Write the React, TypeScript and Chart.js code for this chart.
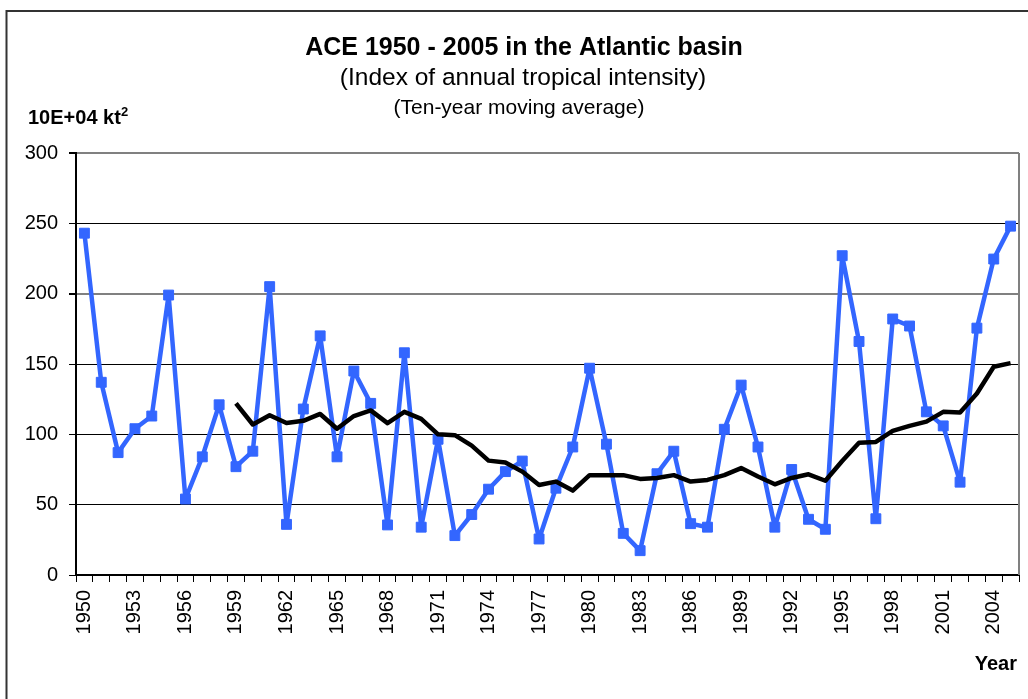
import React, { useEffect, useRef } from "react";
import { Chart, registerables } from "chart.js";

Chart.register(...registerables);

const years: string[] = [
  "1950","1951","1952","1953","1954","1955","1956","1957","1958","1959",
  "1960","1961","1962","1963","1964","1965","1966","1967","1968","1969",
  "1970","1971","1972","1973","1974","1975","1976","1977","1978","1979",
  "1980","1981","1982","1983","1984","1985","1986","1987","1988","1989",
  "1990","1991","1992","1993","1994","1995","1996","1997","1998","1999",
  "2000","2001","2002","2003","2004","2005",
];

const aceValues: number[] = [
  243, 137, 87, 104, 113, 199, 54, 84, 121, 77,
  88, 205, 36, 118, 170, 84, 145, 122, 35.6, 158,
  34, 96.5, 28, 43, 61, 73.5, 81, 25.6, 61.7, 91,
  147, 93, 29.6, 17.3, 72, 88, 36.5, 34, 103.6, 135,
  91, 34, 75, 39.6, 32.5, 227, 166, 40, 182, 177,
  116, 106, 66, 175.5, 224.6, 248,
];

const movingAverage: (number | null)[] = [
  null, null, null, null, null, null, null, null, null, 122,
  107, 113.6, 108, 109.6, 114.5, 104, 113, 117, 108, 116,
  111, 100, 99.4, 92, 81.3, 80, 73.5, 64, 66.4, 60,
  71, 71, 71, 68.3, 69, 71, 66.4, 67.6, 71, 76,
  70, 64.5, 69, 71.6, 67, 81, 94, 94.6, 102.4, 106,
  109, 116, 115.5, 129, 148, 150.6,
];

const yTicks: number[] = [0, 50, 100, 150, 200, 250, 300];

const FONT = "'Liberation Sans', Arial, Helvetica, sans-serif";

function drawText(
  ctx: CanvasRenderingContext2D,
  text: string,
  x: number,
  baseline: number,
  font: string,
  align: CanvasTextAlign
) {
  ctx.save();
  ctx.font = font;
  ctx.textAlign = align;
  ctx.textBaseline = "alphabetic";
  ctx.fillText(text, x, baseline);
  ctx.restore();
}

const decorPlugin = {
  id: "decor",
  beforeDraw(chart: any) {
    const ctx: CanvasRenderingContext2D = chart.ctx;
    ctx.save();
    ctx.fillStyle = "#ffffff";
    ctx.fillRect(0, 0, chart.width, chart.height);
    // outer frame (top + left)
    ctx.strokeStyle = "#333333";
    ctx.lineWidth = 2;
    ctx.beginPath();
    ctx.moveTo(6.5, 699);
    ctx.lineTo(6.5, 11);
    ctx.lineTo(1028, 11);
    ctx.stroke();
    ctx.restore();
  },
  afterDatasetsDraw(chart: any) {
    const ctx: CanvasRenderingContext2D = chart.ctx;
    const a = chart.chartArea;
    ctx.save();
    // right gray border of plot area
    ctx.strokeStyle = "#808080";
    ctx.lineWidth = 2;
    ctx.beginPath();
    ctx.moveTo(a.right, a.top);
    ctx.lineTo(a.right, a.bottom);
    ctx.stroke();
    ctx.fillStyle = "#000000";
    drawText(ctx, "ACE 1950 - 2005 in the Atlantic basin", 524, 55, `bold 25px ${FONT}`, "center");
    drawText(ctx, "(Index of annual tropical intensity)", 523, 85, `24.5px ${FONT}`, "center");
    drawText(ctx, "(Ten-year moving average)", 519, 114, `21px ${FONT}`, "center");
    drawText(ctx, "10E+04 kt", 28, 124, `bold 20px ${FONT}`, "left");
    drawText(ctx, "2", 121, 116, `bold 13px ${FONT}`, "left");
    drawText(ctx, "Year", 1017, 670, `bold 20px ${FONT}`, "right");
    ctx.restore();
  },
};

export default function App() {
  const canvasRef = useRef<HTMLCanvasElement | null>(null);

  useEffect(() => {
    const canvas = canvasRef.current;
    if (!canvas) return;
    const chart = new Chart(canvas, {
      type: "line",
      data: {
        labels: years,
        datasets: [
          {
            label: "Ten-year moving average",
            data: movingAverage,
            borderColor: "#000000",
            backgroundColor: "#000000",
            borderWidth: 4.5,
            pointRadius: 0,
            pointHoverRadius: 0,
            tension: 0,
            order: 0,
            borderJoinStyle: "round",
          },
          {
            label: "ACE",
            data: aceValues,
            borderColor: "#3366FF",
            backgroundColor: "#3366FF",
            borderWidth: 4.5,
            borderJoinStyle: "round",
            pointStyle: "rect",
            pointRadius: 7,
            pointBorderWidth: 1,
            pointBorderColor: "#3366FF",
            pointBackgroundColor: "#3366FF",
            tension: 0,
            order: 1,
          },
        ],
      },
      options: {
        responsive: false,
        animation: false,
        devicePixelRatio: 1,
        layout: { padding: { top: 153, right: 9, left: 0, bottom: 0 } },
        plugins: {
          legend: { display: false },
          tooltip: { enabled: false },
          title: { display: false },
        },
        scales: {
          x: {
            type: "category",
            offset: true,
            grid: {
              offset: true,
              drawOnChartArea: false,
              drawTicks: true,
              tickLength: 7,
              color: "#000000",
              tickColor: "#000000",
              lineWidth: 1,
            },
            border: { display: true, color: "#000000", width: 2 },
            ticks: {
              autoSkip: false,
              maxRotation: 90,
              minRotation: 90,
              padding: 8,
              color: "#000000",
              font: { family: FONT, size: 20 },
              callback: (_v: any, i: number) => (i % 3 === 0 ? years[i] : ""),
            },
            afterFit: (scale: any) => {
              scale.height = 124;
              scale.paddingLeft = 0;
              scale.paddingRight = 0;
            },
          },
          y: {
            min: 0,
            max: 300,
            afterBuildTicks: (scale: any) => {
              scale.ticks = yTicks.map((v) => ({ value: v }));
            },
            grid: {
              drawTicks: true,
              tickLength: 7,
              tickColor: "#000000",
              color: (c: any) =>
                c.tick && (c.tick.value === 200 || c.tick.value === 300) ? "#808080" : "#000000",
              lineWidth: (c: any) =>
                c.tick && (c.tick.value === 200 || c.tick.value === 300) ? 2 : 1,
            },
            border: { display: true, color: "#000000", width: 2 },
            ticks: {
              padding: 11,
              color: "#000000",
              font: { family: FONT, size: 20 },
            },
            afterFit: (scale: any) => {
              scale.width = 76;
              scale.paddingTop = 0;
              scale.paddingBottom = 0;
            },
          },
        },
      },
      plugins: [decorPlugin],
    });
    return () => chart.destroy();
  }, []);

  return (
    <div style={{ position: "fixed", left: 0, top: 0, width: 1028, height: 699, background: "#fff" }}>
      <canvas ref={canvasRef} width={1028} height={699} style={{ width: 1028, height: 699, display: "block" }} />
    </div>
  );
}
